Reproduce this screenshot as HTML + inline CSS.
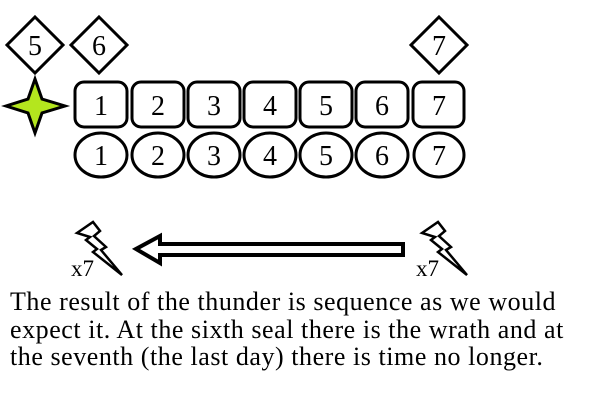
<!DOCTYPE html>
<html><head><style>
body{margin:0;background:#fff;width:600px;height:405px;overflow:hidden;position:relative;font-family:"Liberation Serif","Times New Roman",Times,"DejaVu Serif",serif}
svg{position:absolute;left:0;top:0}
svg text{font-family:"Liberation Serif","Times New Roman",Times,"DejaVu Serif",serif}
.t{position:absolute;left:10px;top:288px;font-size:26px;line-height:27.5px;color:#000;white-space:nowrap;letter-spacing:0.55px}
</style></head><body>
<svg width="600" height="405" font-size="28">
<g fill="#fff" stroke="#000" stroke-width="3">
<polygon points="35,17 63,45 35,73 7,45"/>
<polygon points="99,17 127,45 99,73 71,45"/>
<polygon points="439,17 467,45 439,73 411,45"/>
<polygon points="35,79 42,99 65,106 42,113 35,133 28,113 6,106 28,99" fill="#b4e61e"/>
<rect x="75" y="82" width="52" height="45" rx="9"/>
<rect x="132" y="82" width="52" height="45" rx="9"/>
<rect x="188" y="82" width="52" height="45" rx="9"/>
<rect x="244" y="82" width="52" height="45" rx="9"/>
<rect x="300" y="82" width="52" height="45" rx="9"/>
<rect x="356" y="82" width="52" height="45" rx="9"/>
<rect x="413" y="82" width="51" height="45" rx="9"/>
<ellipse cx="101" cy="155" rx="26" ry="22"/>
<ellipse cx="158" cy="155" rx="26" ry="22"/>
<ellipse cx="214" cy="155" rx="26" ry="22"/>
<ellipse cx="270" cy="155" rx="26" ry="22"/>
<ellipse cx="326" cy="155" rx="26" ry="22"/>
<ellipse cx="382" cy="155" rx="26" ry="22"/>
<ellipse cx="439" cy="155" rx="25" ry="22"/>
<polygon points="403,244 403,255 160,255 160,263 136,249 160,236 160,244" stroke-width="4"/>
<polygon points="77,233 93,222 100,231 94,236 106,247 101,250 122,275 93,252 97,249 86,240 90,237" stroke-width="2.5"/>
<polygon points="422,233 438,222 445,231 439,236 451,247 446,250 467,275 438,252 442,249 431,240 435,237" stroke-width="2.5"/>
</g>
<g text-anchor="middle" fill="#000">
<text x="35" y="55">5</text><text x="99" y="55">6</text><text x="439" y="55">7</text>
<text x="101" y="115">1</text><text x="158" y="115">2</text><text x="214" y="115">3</text><text x="270" y="115">4</text><text x="326" y="115">5</text><text x="382" y="115">6</text><text x="439" y="115">7</text>
<text x="101" y="165">1</text><text x="158" y="165">2</text><text x="214" y="165">3</text><text x="270" y="165">4</text><text x="326" y="165">5</text><text x="382" y="165">6</text><text x="439" y="165">7</text>
</g>
<text x="71" y="276" font-size="23">x7</text>
<text x="416" y="276" font-size="23">x7</text>
</svg>
<div class="t">The result of the thunder is sequence as we would<br>expect it. At the sixth seal there is the wrath and at<br>the seventh (the last day) there is time no longer.</div>
</body></html>
